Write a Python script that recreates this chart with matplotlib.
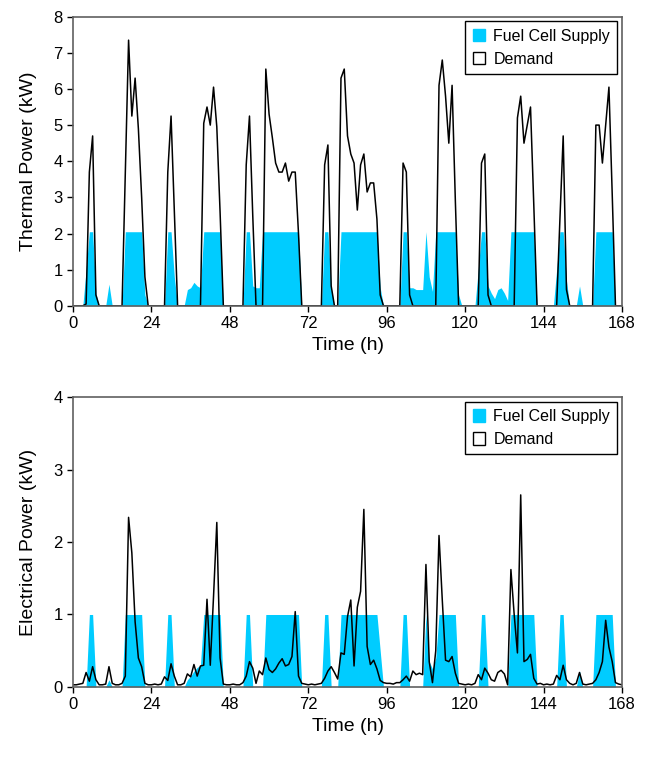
import numpy as np
import matplotlib
matplotlib.use('Agg')
import matplotlib.pyplot as plt
from matplotlib.patches import Patch

plt.rcParams['font.family'] = ['Liberation Sans', 'DejaVu Sans']

hours = np.arange(0, 169)

# thermal demand and fuel cell heat supply (kW), one value per hour 0..168
thermal_demand = [
    0, 0, 0, 0, 0.05, 3.7, 4.7, 0.3, 0, 0,
    0, 0, 0, 0, 0, 0, 3.7, 7.35, 5.25, 6.3,
    4.9, 3.0, 0.8, 0, 0, 0, 0, 0, 0, 3.7,
    5.25, 2.6, 0, 0, 0, 0, 0, 0, 0, 0,
    5.05, 5.5, 5.0, 6.05, 4.95, 2.6, 0, 0, 0, 0,
    0, 0, 0, 3.9, 5.25, 2.5, 0, 0, 0, 6.55,
    5.3, 4.65, 3.95, 3.7, 3.7, 3.95, 3.45, 3.7, 3.7, 2.0,
    0, 0, 0, 0, 0, 0, 0, 3.9, 4.45, 0.55,
    0, 0, 6.3, 6.55, 4.7, 4.2, 3.95, 2.65, 3.9, 4.2,
    3.15, 3.4, 3.4, 2.4, 0.3, 0, 0, 0, 0, 0,
    0, 3.95, 3.7, 0.3, 0, 0, 0, 0, 0, 0,
    0, 0, 6.1, 6.8, 5.8, 4.5, 6.1, 2.9, 0, 0,
    0, 0, 0, 0, 0, 3.95, 4.2, 0.3, 0, 0,
    0, 0, 0, 0, 0, 0, 5.2, 5.8, 4.5, 5.0,
    5.5, 2.8, 0, 0, 0, 0, 0, 0, 0, 2.4,
    4.7, 0.45, 0, 0, 0, 0, 0, 0, 0, 0,
    5.0, 5.0, 3.95, 5.0, 6.05, 3.1, 0, 0, 0,
]
thermal_fc = [
    0, 0, 0, 0, 1.0, 2.05, 2.05, 0.35, 0, 0,
    0, 0.6, 0, 0, 0, 0, 2.05, 2.05, 2.05, 2.05,
    2.05, 2.05, 0.3, 0, 0, 0, 0, 0, 0, 2.05,
    2.05, 0.8, 0, 0, 0, 0.45, 0.5, 0.65, 0.55, 0.5,
    2.05, 2.05, 2.05, 2.05, 2.05, 2.05, 0, 0, 0, 0,
    0, 0, 0, 2.05, 2.05, 0.55, 0.5, 0.5, 2.05, 2.05,
    2.05, 2.05, 2.05, 2.05, 2.05, 2.05, 2.05, 2.05, 2.05, 2.05,
    0, 0, 0, 0, 0, 0, 0, 2.05, 2.05, 0.5,
    0, 0, 2.05, 2.05, 2.05, 2.05, 2.05, 2.05, 2.05, 2.05,
    2.05, 2.05, 2.05, 2.05, 0.5, 0, 0, 0, 0, 0,
    0, 2.05, 2.05, 0.5, 0.5, 0.45, 0.45, 0.45, 2.05, 0.8,
    0.4, 2.05, 2.05, 2.05, 2.05, 2.05, 2.05, 2.05, 0.3, 0,
    0, 0, 0, 0, 1.0, 2.05, 2.05, 0.55, 0.35, 0.2,
    0.45, 0.5, 0.35, 0.15, 2.05, 2.05, 2.05, 2.05, 2.05, 2.05,
    2.05, 2.05, 0, 0, 0, 0, 0, 0, 1.0, 2.05,
    2.05, 0.7, 0, 0, 0, 0.55, 0, 0, 0, 0,
    2.05, 2.05, 2.05, 2.05, 2.05, 2.05, 0, 0, 0,
]

# electrical demand and fuel cell power supply (kW)
elec_demand = [
    0.03, 0.03, 0.04, 0.05, 0.2, 0.08, 0.28, 0.1, 0.03, 0.03,
    0.04, 0.28, 0.05, 0.03, 0.03, 0.05, 0.15, 2.34, 1.85, 0.9,
    0.4, 0.28, 0.05, 0.03, 0.03, 0.04, 0.03, 0.04, 0.14, 0.09,
    0.32, 0.15, 0.03, 0.03, 0.05, 0.18, 0.14, 0.31, 0.15, 0.29,
    0.3, 1.21, 0.3, 1.25, 2.27, 0.4, 0.04, 0.03, 0.03, 0.04,
    0.03, 0.03, 0.06, 0.15, 0.35, 0.26, 0.05, 0.22, 0.17, 0.4,
    0.24, 0.2, 0.25, 0.33, 0.39, 0.29, 0.31, 0.42, 1.04, 0.15,
    0.05, 0.04, 0.03, 0.04, 0.03, 0.04, 0.05, 0.12, 0.22, 0.28,
    0.2, 0.11, 0.47, 0.45, 0.97, 1.2, 0.29, 1.1, 1.32, 2.45,
    0.56, 0.31, 0.37, 0.25, 0.09, 0.06, 0.05, 0.05, 0.04, 0.06,
    0.06, 0.1, 0.15, 0.08, 0.22, 0.17, 0.19, 0.17, 1.69, 0.35,
    0.06, 0.5, 2.09, 1.2, 0.37, 0.35, 0.42, 0.19, 0.05, 0.04,
    0.03, 0.04, 0.03, 0.05, 0.17, 0.1, 0.26, 0.19, 0.1, 0.08,
    0.2, 0.23, 0.18, 0.03, 1.62, 1.0, 0.47, 2.65, 0.35, 0.38,
    0.45, 0.12, 0.04, 0.05, 0.03, 0.04, 0.03, 0.04, 0.16, 0.1,
    0.3, 0.1, 0.05, 0.03, 0.05, 0.2, 0.04, 0.03, 0.04, 0.05,
    0.1, 0.2, 0.35, 0.92, 0.55, 0.35, 0.06, 0.04, 0.03,
]
elec_fc = [
    0, 0, 0, 0, 0, 1, 1, 0, 0, 0,
    0, 0.1, 0, 0, 0, 0, 1, 1, 1, 1,
    1, 1, 0, 0, 0, 0, 0, 0, 0, 1,
    1, 0, 0, 0, 0, 0.1, 0.15, 0.22, 0.27, 0.3,
    1, 1, 1, 1, 1, 1, 0, 0, 0, 0,
    0, 0, 0, 1, 1, 0, 0, 0, 0, 1,
    1, 1, 1, 1, 1, 1, 1, 1, 1, 1,
    0, 0, 0, 0, 0, 0, 0, 1, 1, 0,
    0, 0, 1, 1, 1, 1, 1, 1, 1, 1,
    1, 1, 1, 1, 0.5, 0, 0, 0, 0, 0,
    0, 1, 1, 0, 0, 0, 0, 0, 1, 0.35,
    0.25, 0.4, 1, 1, 1, 1, 1, 1, 0, 0,
    0, 0, 0, 0, 0, 1, 1, 0, 0, 0,
    0, 0, 0, 0, 1, 1, 1, 1, 1, 1,
    1, 1, 0, 0, 0, 0, 0, 0, 0, 1,
    1, 0, 0, 0, 0, 0.22, 0, 0, 0, 0,
    1, 1, 1, 1, 1, 1, 0, 0, 0,
]

fc_color = '#00CCFF'
frame_color = '#606060'

fig = plt.figure(figsize=(6.52, 7.57), dpi=100)
ax1 = fig.add_axes([0.112, 0.596, 0.842, 0.382])
ax2 = fig.add_axes([0.112, 0.0925, 0.842, 0.383])


def draw_panel(ax, demand, supply, ymax, ylabel):
    ax.fill_between(hours, supply, 0, color=fc_color, lw=0)
    ax.plot(hours, demand, color='black', lw=1.1)
    ax.set_xlim(0, 168)
    ax.set_ylim(0, ymax)
    ax.set_xticks(range(0, 169, 24))
    ax.set_yticks(range(0, ymax + 1))
    ax.set_xlabel('Time (h)', fontsize=14, labelpad=4)
    ax.set_ylabel(ylabel, fontsize=14, labelpad=12)
    ax.tick_params(direction='out', length=4, width=1, colors='black',
                   labelsize=12)
    for s in ax.spines.values():
        s.set_color(frame_color)
        s.set_linewidth(1.2)
    handles = [Patch(facecolor=fc_color, edgecolor=fc_color),
               Patch(facecolor='white', edgecolor='black')]
    leg = ax.legend(handles, ['Fuel Cell Supply', 'Demand'], loc='upper right',
                    fontsize=11.5, fancybox=False, framealpha=1,
                    handlelength=0.8, handleheight=0.8, handletextpad=0.5,
                    borderaxespad=0.3, labelspacing=0.5, borderpad=0.45)
    leg.get_frame().set_edgecolor('black')
    leg.get_frame().set_linewidth(1.0)


draw_panel(ax1, thermal_demand, thermal_fc, 8, 'Thermal Power (kW)')
draw_panel(ax2, elec_demand, elec_fc, 4, 'Electrical Power (kW)')

plt.savefig('out.png', dpi=100)
plt.close()
